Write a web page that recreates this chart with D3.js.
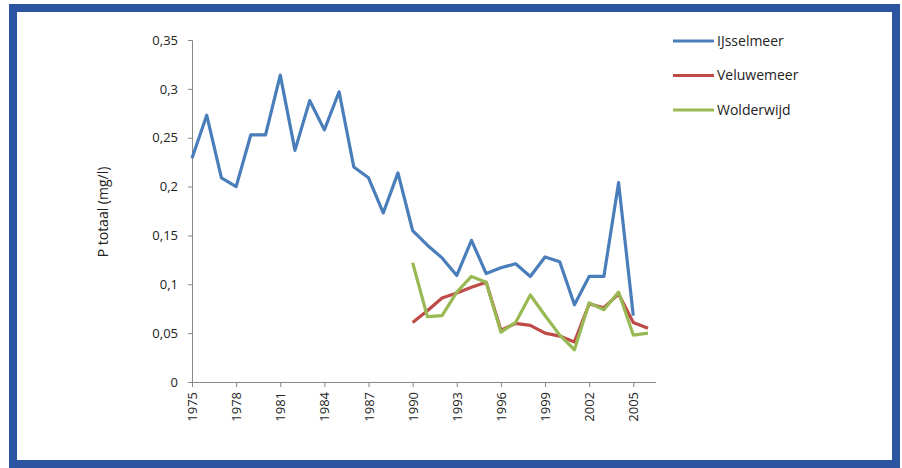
<!DOCTYPE html>
<html><head><meta charset="utf-8">
<script src="https://cdn.jsdelivr.net/npm/d3@7"></script>
<style>body{margin:0;background:#fff}svg{display:block}</style>
</head><body>
<script>
const years = d3.range(1975, 2007);
const yTicks = [0, 0.05, 0.1, 0.15, 0.2, 0.25, 0.3, 0.35];
const xTickYears = [1975, 1978, 1981, 1984, 1987, 1990, 1993, 1996, 1999, 2002, 2005];
const ijsselmeer = [0.229,0.273,0.209,0.200,0.253,0.253,0.314,0.237,0.288,0.258,0.297,0.220,0.209,0.173,0.214,0.155,0.140,0.127,0.109,0.145,0.111,0.117,0.121,0.108,0.128,0.123,0.079,0.108,0.108,0.204,0.068,null];
const veluwemeer = [null,null,null,null,null,null,null,null,null,null,null,null,null,null,null,0.061,0.073,0.086,0.091,0.097,0.102,0.053,0.060,0.058,0.050,0.047,0.041,0.080,0.076,0.090,0.061,0.055];
const wolderwijd = [null,null,null,null,null,null,null,null,null,null,null,null,null,null,null,0.122,0.067,0.068,0.092,0.108,0.102,0.051,0.061,0.089,0.068,0.048,0.033,0.081,0.074,0.092,0.048,0.050];
const seriesNames = ["IJsselmeer", "Veluwemeer", "Wolderwijd"];
const seriesColors = ["#4a7ebb", "#be4b48", "#98b954"];
const seriesData = [ijsselmeer, veluwemeer, wolderwijd];

const W = 902, H = 468;
const svg = d3.select("body").append("svg").attr("width", W).attr("height", H);
const font = "'Liberation Sans Narrow', 'Open Sans', Arial, sans-serif";

// frame
svg.append("rect").attr("x", 13).attr("y", 8).attr("width", 883).attr("height", 456)
  .attr("fill", "#fff").attr("stroke", "#2b54a1").attr("stroke-width", 8);

const x = d3.scaleLinear().domain([1975, 2006]).range([192, 648]);
const y = d3.scaleLinear().domain([0, 0.35]).range([382, 40]);

// y axis
const fmt = d => d3.format(".2~f")(d).replace(".", ",");
const yAxis = svg.append("g").attr("transform", "translate(192,0)")
  .call(d3.axisLeft(y).tickValues(yTicks).tickFormat(fmt).tickSize(4).tickPadding(10));
yAxis.select(".domain").attr("stroke", "#888");
yAxis.selectAll(".tick line").attr("stroke", "#888");
yAxis.selectAll("text").attr("font-family", font).attr("font-size", 13).attr("fill", "#222");

// x axis
const xAxis = svg.append("g").attr("transform", "translate(0,382)")
  .call(d3.axisBottom(x).tickValues(years).tickFormat(d => xTickYears.includes(d) ? d : "").tickSize(4).tickSizeOuter(0));
xAxis.select(".domain").attr("stroke", "#888").attr("d", "M192,0.5H656");
xAxis.selectAll(".tick line").attr("stroke", "#888").attr("y2", d => xTickYears.includes(d) ? 5 : 0);
xAxis.selectAll("text").attr("font-family", font).attr("font-size", 13).attr("fill", "#222")
  .attr("transform", "rotate(-90)").attr("text-anchor", "end").attr("dy", "0.35em").attr("x", -10).attr("y", 0);

// axis title
svg.append("text").attr("transform", "translate(108,212) rotate(-90)")
  .attr("text-anchor", "middle").attr("font-family", font).attr("font-size", 14).attr("fill", "#222")
  .text("P totaal (mg/l)");

// lines
const line = d3.line().defined(d => d.v !== null).x(d => x(d.year)).y(d => y(d.v));
seriesData.forEach((s, i) => {
  svg.append("path").datum(years.map((yr, k) => ({year: yr, v: s[k]})))
    .attr("fill", "none").attr("stroke", seriesColors[i]).attr("stroke-width", 3.2)
    .attr("stroke-linejoin", "round").attr("d", line);
});

// legend
const lg = svg.append("g");
seriesNames.forEach((n, i) => {
  const ly = 41 + i * 34.5;
  lg.append("line").attr("x1", 673).attr("x2", 714).attr("y1", ly).attr("y2", ly)
    .attr("stroke", seriesColors[i]).attr("stroke-width", 3.2);
  lg.append("text").attr("x", 717).attr("y", ly).attr("dy", "0.35em")
    .attr("font-family", font).attr("font-size", 14).attr("fill", "#222").text(n);
});
</script>
</body></html>
